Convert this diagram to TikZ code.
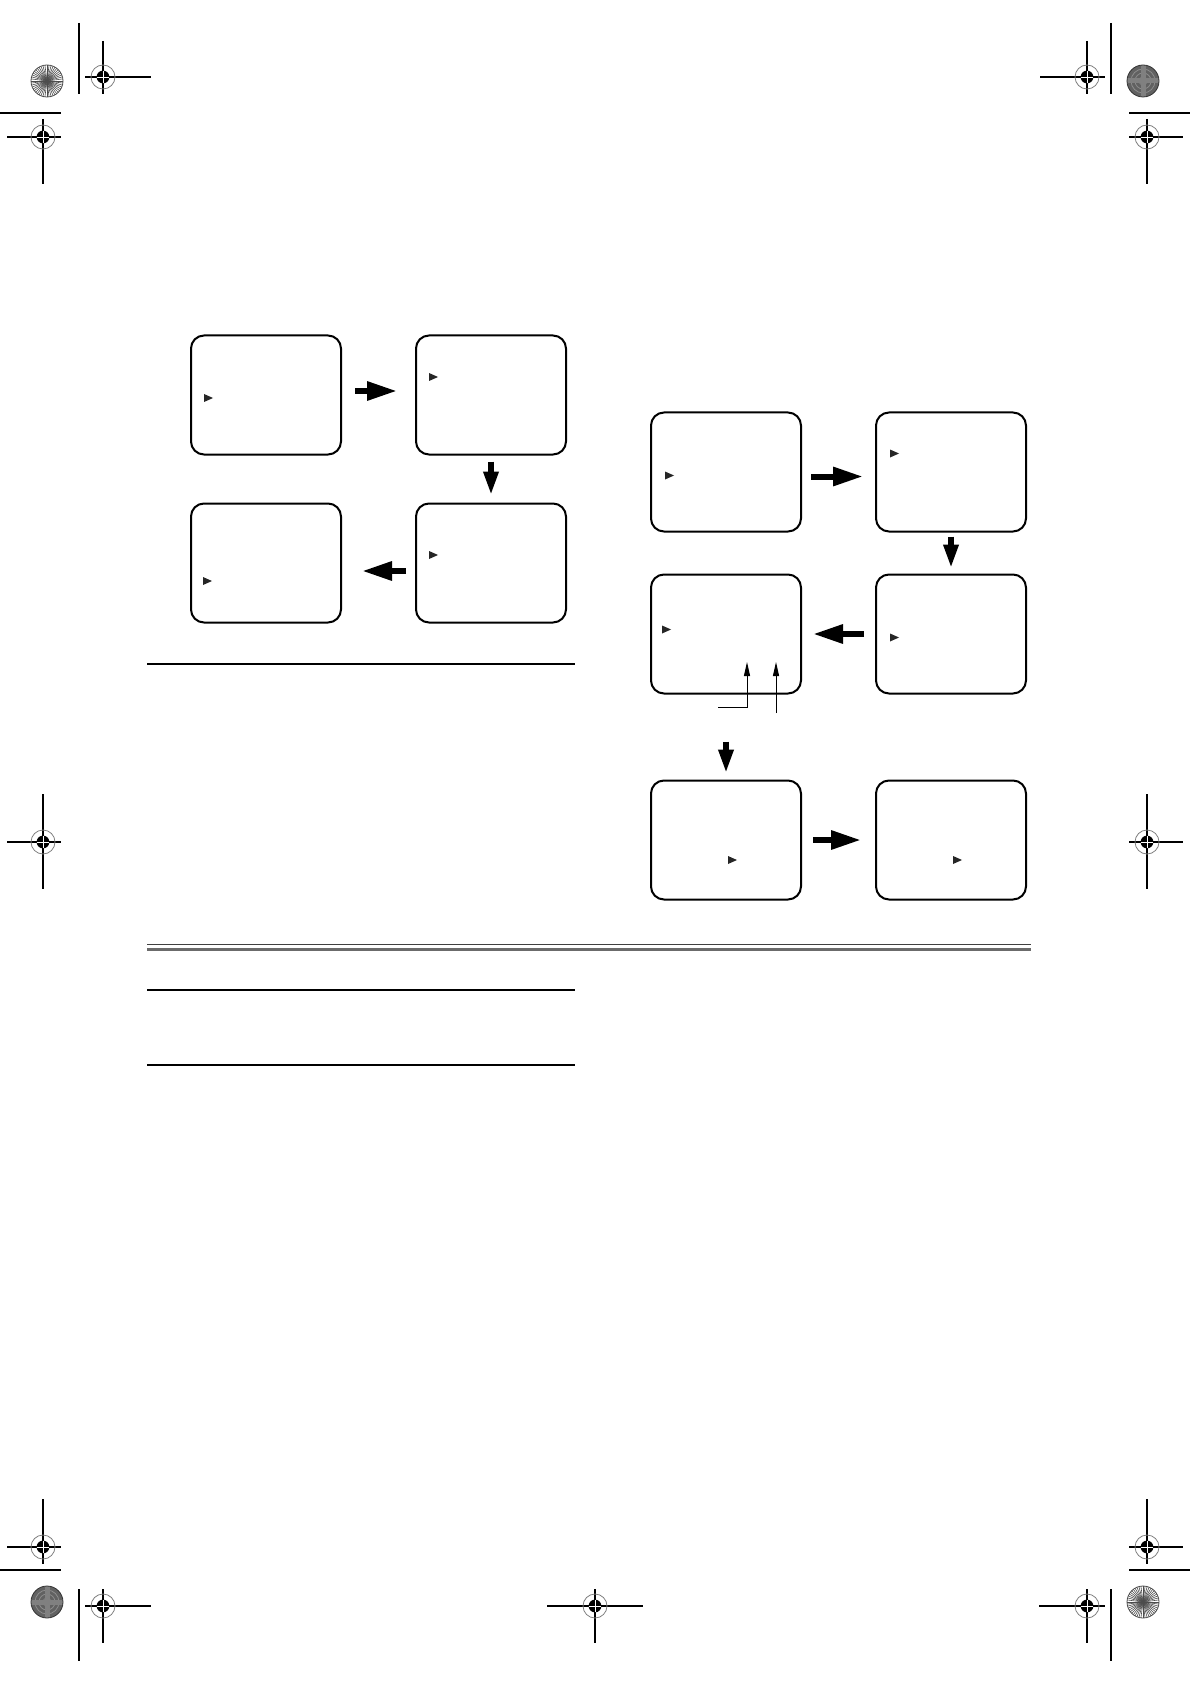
\documentclass[tikz,border=0pt]{standalone}
\usetikzlibrary{positioning,arrows.meta}

\newcommand{\regmark}[5]{%
  \draw[regline] (#1) ++(-#2,0) -- ++({#2+#3},0);
  \draw[regline] (#1) ++(0,-#4) -- ++(0,{#4+#5});
  \draw[gray,line width=0.4pt] (#1) circle[radius=6pt];
  \fill (#1) circle[radius=3.2pt];
  \draw[white,line width=0.4pt] (#1) ++(-3.2pt,0pt) -- ++(6.4pt,0pt) (#1) ++(0pt,-3.2pt) -- ++(0pt,6.4pt);
}
\newcommand{\burstlight}[1]{%
  \foreach \a in {0,7.5,...,352.5} \draw[black!70,line width=0.3pt] (#1) -- ++(\a:16);
  \draw[black!70,line width=0.4pt] (#1) circle[radius=8pt];
}
\newcommand{\burstdark}[1]{%
  \fill[black!62] (#1) circle[radius=8pt];
  \foreach \r in {2,4,6} \draw[black!45,line width=0.4pt] (#1) circle[radius=\r pt];
  \fill[black!50] ([shift={(-16,-2.5)}]#1) rectangle ([shift={(16,2.5)}]#1);
  \fill[black!50] ([shift={(-2.5,-16)}]#1) rectangle ([shift={(2.5,16)}]#1);
  \draw[black!80,line width=0.4pt] (#1) circle[radius=8pt];
}
\newcommand{\cursor}[2]{\fill[black!85] ([shift={(#2)}]#1.west) -- ++(0,-4) -- ++(9,4) -- ++(-9,4) -- cycle;}

\begin{document}
\begin{tikzpicture}[x=0.5pt,y=-0.5pt,node distance=112.5pt,on grid,
    screen/.style={draw,line width=1pt,rounded corners=6.5pt,minimum width=75pt,minimum height=59.5pt,inner sep=0pt},
    bigarrow/.style={-{Triangle[length=15pt,width=9pt]},line width=3pt},
    downarrow/.style={-{Triangle[length=12pt,width=7pt]},line width=3pt},
    pointer/.style={-{Triangle[length=7pt,width=3pt]},line width=0.5pt},
    regline/.style={line width=0.7pt},
    rule/.style={line width=1.1pt}]
  \useasboundingbox (0,0) rectangle (1190,1684);

  \node[screen] (s1) at (266,395) {};
  \node[screen,right=of s1] (s2) {};
  \node[screen,below=84pt of s2] (s3) {};
  \node[screen,left=of s3] (s4) {};
  \cursor{s1}{14,3}
  \cursor{s2}{14,-18}
  \cursor{s3}{14,-8}
  \cursor{s4}{13,18}
  \draw[bigarrow,shorten <=6.5pt,shorten >=9pt] ([yshift=2pt]s1.east) -- ([yshift=2pt]s2.west);
  \draw[downarrow,shorten <=3pt,shorten >=3.5pt] (s2) -- (s3);
  \draw[bigarrow,shorten <=4.5pt,shorten >=10pt] ([yshift=-4pt]s3.west) -- ([yshift=-4pt]s4.east);

  \node[screen] (s5) at (726,472) {};
  \node[screen,right=of s5] (s6) {};
  \node[screen,below=81pt of s6] (s7) {};
  \node[screen,left=of s7] (s8) {};
  \node[screen,below=103pt of s8] (s9) {};
  \node[screen,right=of s9] (s10) {};
  \cursor{s5}{15,3.5}
  \cursor{s6}{15,-18.5}
  \cursor{s7}{15,3.5}
  \cursor{s8}{12,-4.5}
  \cursor{s9}{78,20}
  \cursor{s10}{78,20}
  \draw[bigarrow,shorten <=4.5pt,shorten >=6pt] ([yshift=-2.25pt]s5.east) -- ([yshift=-2.25pt]s6.west);
  \draw[downarrow,shorten <=2pt,shorten >=2.5pt] (s6) -- (s7);
  \draw[bigarrow,shorten <=5.5pt,shorten >=5.5pt] (s7.west) -- (s8.east);
  \draw[downarrow,shorten <=23.5pt,shorten >=3pt] (s8) -- (s9);
  \draw[bigarrow,shorten <=5.5pt,shorten >=7pt] (s9.east) -- (s10.west);

  \coordinate (t1) at (747,662);
  \coordinate (l1) at (718,707);
  \coordinate (t2) at (776,662);
  \coordinate (l2) at (776,713);
  \draw[pointer] (l1) -| (t1);
  \draw[pointer] (l2) -- (t2);

  \draw[rule] (147,664) -- (575,664);
  \draw[black!75,line width=0.5pt] (147,944) -- (1031,944);
  \draw[black!58,line width=1.8pt] (147,949.5) -- (1031,949.5);
  \draw[rule] (147,990) -- (575,990);
  \draw[rule] (147,1065) -- (575,1065);

  \draw[regline] (79,23) -- (79,94);
  \draw[regline] (0,113) -- (61,113);
  \draw[regline] (1111,23) -- (1111,94);
  \draw[regline] (1129,113) -- (1190,113);
  \draw[regline] (79,1589) -- (79,1661);
  \draw[regline] (0,1570) -- (61,1570);
  \draw[regline] (1111,1589) -- (1111,1661);
  \draw[regline] (1129,1570) -- (1190,1570);

  \burstlight{47,81}
  \burstdark{1143,81}
  \burstdark{47,1602}
  \burstlight{1143,1602}

  \regmark{103,77}{18}{48}{36}{17}
  \regmark{1087,77}{47}{18}{36}{17}
  \regmark{43,137}{36}{18}{18}{47}
  \regmark{1147,137}{18}{36}{18}{47}
  \regmark{43,842}{36}{18}{48}{47}
  \regmark{1147,842}{18}{36}{48}{47}
  \regmark{43,1547}{36}{18}{48}{17}
  \regmark{1147,1547}{18}{36}{48}{17}
  \regmark{103,1606}{18}{48}{17}{37}
  \regmark{1087,1606}{48}{18}{17}{37}
  \regmark{595,1606}{48}{48}{17}{37}
\end{tikzpicture}
\end{document}
